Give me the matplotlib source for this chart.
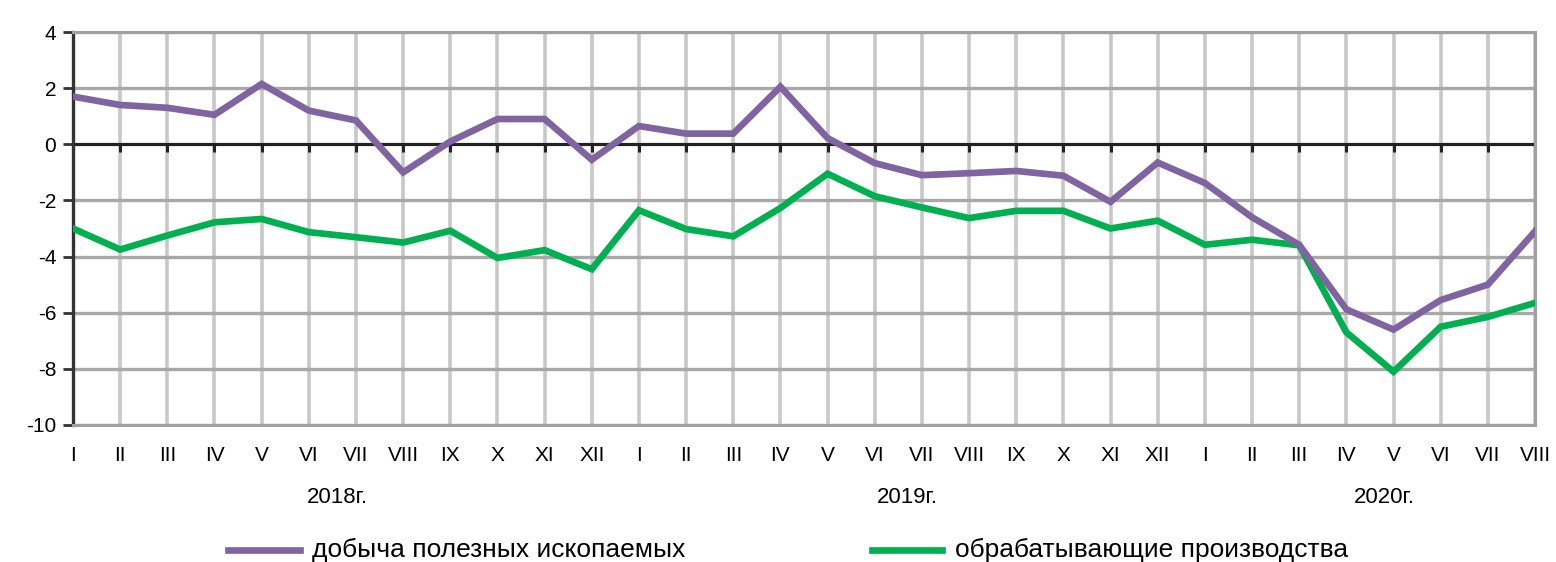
import matplotlib
matplotlib.use("Agg")
import matplotlib.pyplot as plt
from matplotlib.lines import Line2D
from matplotlib import markers

months = ["I", "II", "III", "IV", "V", "VI", "VII", "VIII", "IX", "X", "XI", "XII",
          "I", "II", "III", "IV", "V", "VI", "VII", "VIII", "IX", "X", "XI", "XII",
          "I", "II", "III", "IV", "V", "VI", "VII", "VIII"]
years = ["2018г.", "2019г.", "2020г."]
year_pos = [5.6, 17.7, 27.8]

mining = [1.7, 1.4, 1.3, 1.05, 2.15, 1.2, 0.85, -1.0, 0.1, 0.9, 0.9, -0.55,
          0.65, 0.38, 0.38, 2.05, 0.22, -0.67, -1.1, -1.03, -0.95, -1.12, -2.05, -0.65,
          -1.38, -2.6, -3.58, -5.88, -6.6, -5.55, -5.0, -3.1]
manuf = [-3.0, -3.75, -3.25, -2.78, -2.66, -3.13, -3.31, -3.5, -3.08, -4.05, -3.77, -4.45,
         -2.35, -3.02, -3.28, -2.27, -1.05, -1.85, -2.25, -2.63, -2.37, -2.37, -3.0, -2.72,
         -3.58, -3.4, -3.6, -6.7, -8.1, -6.5, -6.15, -5.65]
names = ["добыча полезных ископаемых", "обрабатывающие производства"]
colors = ["#8064A2", "#00B050"]

plt.rcParams['font.family'] = ['Liberation Sans', 'DejaVu Sans']

W, H = 1556, 562
fig = plt.figure(figsize=(W/100, H/100), dpi=100)
ax = fig.add_axes([73/W, 1-425/H, (1535-73)/W, (425-32)/H])

x = list(range(len(months)))
ax.set_xlim(0, len(months)-1)
ax.set_ylim(-10, 4)
ax.set_yticks(range(-10, 5, 2))
ax.set_yticklabels([str(v) for v in range(-10, 5, 2)], fontsize=15)
ax.set_xticks(x)
ax.set_xticklabels(months, fontsize=15)
ax.tick_params(axis='x', length=0, pad=15)
ax.tick_params(axis='y', length=7, width=2, color='#333333', pad=5, direction='out')

# grid
for v in x:
    ax.axvline(v, color='#c8c8c8', lw=2.6, zorder=1)
for v in range(-10, 5, 2):
    ax.axhline(v, color='#a8a8a8', lw=2.4, zorder=1)
ax.axhline(0, color='#222222', lw=2.2, zorder=2)
ax.plot(x, [0]*len(x), ls='none', marker=markers.TICKDOWN, ms=6, mew=2.2, color='#222222', zorder=2)

for sp in ['top', 'right', 'bottom']:
    ax.spines[sp].set_color('#a0a0a0')
    ax.spines[sp].set_linewidth(2.2)
ax.spines['left'].set_color('#333333')
ax.spines['left'].set_linewidth(2.4)

h1, = ax.plot(x, mining, color=colors[0], lw=4.8, zorder=4, solid_joinstyle='miter')
h2, = ax.plot(x, manuf, color=colors[1], lw=4.8, zorder=3, solid_joinstyle='miter')

for yr, p in zip(years, year_pos):
    ax.text(p, -12.6, yr, ha='center', va='center', fontsize=16)

# legend (manual placement)
ly = 1 - 550/H
for (x0, x1, tx), c, nm in zip([(228, 300, 312), (872, 942, 955)], colors, names):
    fig.add_artist(Line2D([x0/W, x1/W], [ly, ly], color=c, lw=4.8, transform=fig.transFigure))
    fig.text(tx/W, ly, nm, ha='left', va='center', fontsize=19)

fig.savefig("out.png", dpi=100)
